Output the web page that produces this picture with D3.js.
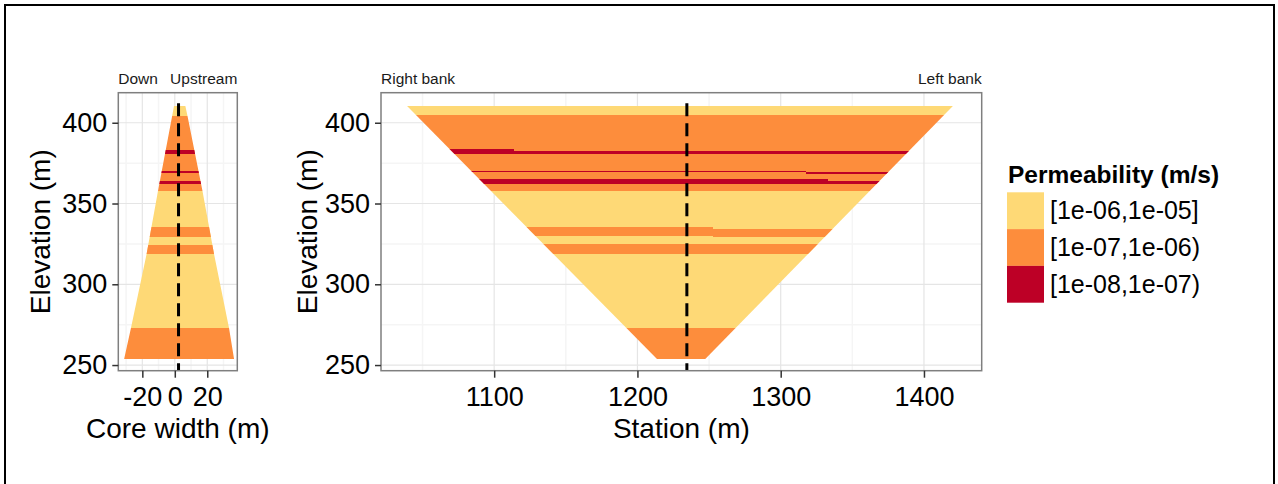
<!DOCTYPE html>
<html>
<head>
<meta charset="utf-8">
<script src="https://cdn.jsdelivr.net/npm/d3@7/dist/d3.min.js"></script>
<style>
	body { margin: 0; background: #fff; }
	text { font-family: "Liberation Sans", Arial, sans-serif; }
</style>
</head>
<body>
<svg id="chart" width="1278" height="484"></svg>
<script>
// permeability classes, legend order
var classLabels = ["[1e-06,1e-05]", "[1e-07,1e-06)", "[1e-08,1e-07)"];
var classColors = ["#FED976", "#FD8D3C", "#BD0026"];

// core section layers: [top elevation, bottom elevation, class]
var coreLayers = [
	[410.3, 404.3, 0],
	[404.3, 358.0, 1],
	[383.1, 380.8, 2],
	[370.1, 369.1, 2],
	[364.1, 362.0, 2],
	[358.0, 273.0, 0],
	[335.3, 329.5, 1],
	[324.5, 318.6, 1],
	[273.0, 253.8, 1]
];
// core outline: [elevation, core width]
var coreLeftEdge = [[410.3, -0.5], [404.3, -1.6], [358, -10.3], [318.6, -17.4], [273, -27], [253.8, -31.2]];
var coreRightEdge = [[410.3, 6.5], [404.3, 7.8], [358, 17], [318.6, 24.2], [273, 33.4], [253.8, 36.5]];

// dam section layers: [top elevation, bottom elevation, station from, station to, class]
var mainLayers = [
	[410.3, 404.7, 1030, 1430, 0],
	[404.7, 357.9, 1030, 1430, 1],
	[383.5, 380.6, 1030, 1114, 2],
	[382.7, 380.6, 1114, 1430, 2],
	[370.1, 369.2, 1030, 1318, 2],
	[369.4, 368.1, 1318, 1430, 2],
	[365.1, 362.0, 1030, 1333, 2],
	[363.7, 362.0, 1333, 1430, 2],
	[357.9, 273.0, 1030, 1430, 0],
	[335.6, 330.0, 1030, 1253, 1],
	[334.2, 329.4, 1253, 1430, 1],
	[324.7, 318.5, 1030, 1430, 1],
	[273.0, 253.5, 1030, 1430, 1]
];
// dam outline: [elevation, station]
var mainLeftEdge = [[410.3, 1039.2], [253.5, 1214]];
var mainRightEdge = [[410.3, 1420.2], [253.5, 1247]];

// dashed centre lines
var coreCentre = 2.3;
var mainCentre = 1234.5;
var centreTop = 412;

var elevTicks = [250, 300, 350, 400];
var elevMinor = [275, 325, 375];
var coreTicks = [-20, 0, 20];
var coreMinor = [-30, -10, 10, 30];
var stationTicks = [1100, 1200, 1300, 1400];
var stationMinor = [1050, 1150, 1250, 1350];

var svg = d3.select("#chart");

svg.append("rect")
	.attr("x", 5).attr("y", 5)
	.attr("width", 1269).attr("height", 500)
	.attr("fill", "#fff")
	.attr("stroke", "#000")
	.attr("stroke-width", 2);

var y = d3.scaleLinear().domain([246.5, 418.6]).range([370.7, 92.7]);
var xCore = d3.scaleLinear().domain([-34.8, 38.5]).range([118.3, 237.3]);
var xMain = d3.scaleLinear().domain([1021, 1440.3]).range([381, 981.7]);

function drawPanel(id, x, ticks, minor, layers, leftEdge, rightEdge, centre, xTitle, yTitleX, stripLeft, stripRight) {
	var x0 = x.range()[0], x1 = x.range()[1];
	var y0 = y.range()[1], y1 = y.range()[0];
	var g = svg.append("g");

	// grid
	g.append("g").selectAll("line").data(elevMinor).enter().append("line")
		.attr("x1", x0).attr("x2", x1)
		.attr("y1", function(d) { return y(d); }).attr("y2", function(d) { return y(d); })
		.attr("stroke", "#F5F5F5").attr("stroke-width", 1.5);
	g.append("g").selectAll("line").data(minor).enter().append("line")
		.attr("y1", y0).attr("y2", y1)
		.attr("x1", function(d) { return x(d); }).attr("x2", function(d) { return x(d); })
		.attr("stroke", "#F5F5F5").attr("stroke-width", 1.5);
	g.append("g").selectAll("line").data(elevTicks).enter().append("line")
		.attr("x1", x0).attr("x2", x1)
		.attr("y1", function(d) { return y(d); }).attr("y2", function(d) { return y(d); })
		.attr("stroke", "#E5E5E5").attr("stroke-width", 1.2);
	g.append("g").selectAll("line").data(ticks).enter().append("line")
		.attr("y1", y0).attr("y2", y1)
		.attr("x1", function(d) { return x(d); }).attr("x2", function(d) { return x(d); })
		.attr("stroke", "#E5E5E5").attr("stroke-width", 1.2);

	// outline as clip path
	var pts = leftEdge.map(function(d) { return [x(d[1]), y(d[0])]; })
		.concat(rightEdge.slice().reverse().map(function(d) { return [x(d[1]), y(d[0])]; }));
	svg.append("clipPath").attr("id", id)
		.append("polygon")
		.attr("points", pts.map(function(p) { return p.join(","); }).join(" "));

	var shapes = g.append("g").attr("clip-path", "url(#" + id + ")");
	shapes.selectAll("rect").data(layers).enter().append("rect")
		.attr("x", function(d) { return d.length > 3 ? x(d[2]) : x0; })
		.attr("width", function(d) { return d.length > 3 ? x(d[3]) - x(d[2]) : x1 - x0; })
		.attr("y", function(d) { return y(d[0]); })
		.attr("height", function(d) { return y(d[1]) - y(d[0]); })
		.attr("fill", function(d) { return classColors[d[d.length - 1]]; })
		.attr("shape-rendering", "crispEdges");

	// centre line
	g.append("line")
		.attr("x1", x(centre)).attr("x2", x(centre))
		.attr("y1", y(centreTop)).attr("y2", y1)
		.attr("stroke", "#000").attr("stroke-width", 3)
		.attr("stroke-dasharray", "13,7");

	// panel border
	g.append("rect")
		.attr("x", x0).attr("y", y0)
		.attr("width", x1 - x0).attr("height", y1 - y0)
		.attr("fill", "none").attr("stroke", "#7F7F7F").attr("stroke-width", 1.5);

	// axes
	var ax = g.append("g").attr("transform", "translate(0," + y1 + ")")
		.call(d3.axisBottom(x).tickValues(ticks).tickSize(7).tickPadding(9)
			.tickFormat(function(d) { return String(d); }));
	var ay = g.append("g").attr("transform", "translate(" + x0 + ",0)")
		.call(d3.axisLeft(y).tickValues(elevTicks).tickSize(6).tickPadding(5));
	[ax, ay].forEach(function(a) {
		a.select(".domain").remove();
		a.selectAll(".tick line").attr("stroke", "#333").attr("stroke-width", 1.5);
		a.selectAll("text").attr("font-size", 27).attr("fill", "#000")
			.style("font-family", "Liberation Sans, Arial, sans-serif");
	});

	// titles
	g.append("text")
		.attr("x", (x0 + x1) / 2).attr("y", 438)
		.attr("text-anchor", "middle").attr("font-size", 28)
		.text(xTitle);
	g.append("text")
		.attr("transform", "translate(" + yTitleX + "," + (y0 + y1) / 2 + ") rotate(-90)")
		.attr("text-anchor", "middle").attr("font-size", 28)
		.text("Elevation (m)");

	g.append("text").attr("x", x0).attr("y", 84)
		.attr("font-size", 15.5).attr("fill", "#1a1a1a").text(stripLeft);
	g.append("text").attr("x", x1).attr("y", 84)
		.attr("text-anchor", "end")
		.attr("font-size", 15.5).attr("fill", "#1a1a1a").text(stripRight);
}

drawPanel("clipCore", xCore, coreTicks, coreMinor, coreLayers, coreLeftEdge, coreRightEdge,
	coreCentre, "Core width (m)", 50, "Down", "Upstream");
drawPanel("clipMain", xMain, stationTicks, stationMinor, mainLayers, mainLeftEdge, mainRightEdge,
	mainCentre, "Station (m)", 317, "Right bank", "Left bank");

// legend
var legend = svg.append("g").attr("transform", "translate(1007,0)");
legend.append("text")
	.attr("x", 1).attr("y", 183)
	.attr("font-size", 24.5).attr("font-weight", "bold")
	.text("Permeability (m/s)");
var keyY = d3.scaleBand().domain(d3.range(classLabels.length)).range([192.3, 302.7]);
var keys = legend.selectAll(".key").data(classLabels).enter().append("g").attr("class", "key");
keys.append("rect")
	.attr("x", 0).attr("y", function(d, i) { return keyY(i); })
	.attr("width", 37).attr("height", keyY.bandwidth())
	.attr("fill", function(d, i) { return classColors[i]; });
keys.append("text")
	.attr("x", 43).attr("y", function(d, i) { return keyY(i) + keyY.bandwidth() / 2; })
	.attr("dy", "0.35em").attr("font-size", 25)
	.text(function(d) { return d; });
</script>
</body>
</html>
